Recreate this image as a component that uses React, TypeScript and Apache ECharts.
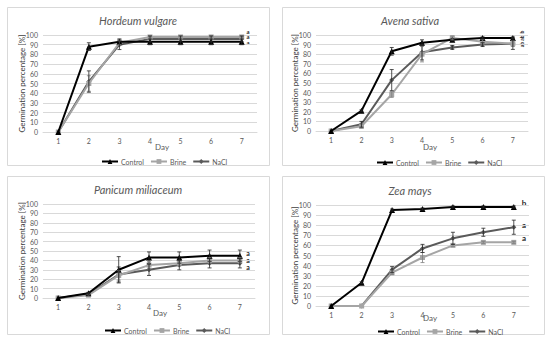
import React, { useEffect, useRef } from "react";
import * as echarts from "echarts";

const days = ["1", "2", "3", "4", "5", "6", "7"];
const seriesNames = ["Control", "Brine", "NaCl"];

// Hordeum vulgare
const hvControl = [0, 88, 93, 93, 93, 93, 93];
const hvControlErr = [0, 4, 3, 3, 3, 3, 3];
const hvBrine = [0, 50, 92, 98, 98, 98, 98];
const hvBrineErr = [0, 8, 2, 1, 1, 1, 1];
const hvNaCl = [0, 52, 90, 96, 96, 96, 96];
const hvNaClErr = [0, 11, 5, 3, 3, 3, 3];

// Avena sativa
const avControl = [0, 21, 83, 92, 95, 97, 97];
const avControlErr = [0, 1, 4, 3, 1, 1, 1];
const avBrine = [0, 5, 38, 80, 97, 93, 91];
const avBrineErr = [0, 2, 3, 8, 2, 2, 3];
const avNaCl = [0, 7, 53, 82, 87, 90, 91];
const avNaClErr = [0, 3, 11, 8, 2, 2, 6];

// Panicum miliaceum
const pmControl = [0, 5, 30, 43, 43, 45, 45];
const pmControlErr = [0, 1, 14, 6, 6, 6, 6];
const pmBrine = [0, 3, 24, 35, 37, 40, 40];
const pmBrineErr = [0, 1, 5, 4, 3, 3, 3];
const pmNaCl = [0, 4, 25, 30, 35, 37, 37];
const pmNaClErr = [0, 1, 8, 6, 5, 5, 5];

// Zea mays
const zmControl = [0, 23, 95, 96, 98, 98, 98];
const zmControlErr = [0, 1, 1, 1, 1, 1, 1];
const zmBrine = [0, 0, 33, 48, 60, 63, 63];
const zmBrineErr = [0, 0, 2, 5, 1, 1, 1];
const zmNaCl = [0, 0, 36, 57, 67, 73, 78];
const zmNaClErr = [0, 0, 3, 4, 6, 4, 7];

const titles = ["Hordeum vulgare", "Avena sativa", "Panicum miliaceum", "Zea mays"];

const panelsData = [
  { values: [hvControl, hvBrine, hvNaCl], errs: [hvControlErr, hvBrineErr, hvNaClErr] },
  { values: [avControl, avBrine, avNaCl], errs: [avControlErr, avBrineErr, avNaClErr] },
  { values: [pmControl, pmBrine, pmNaCl], errs: [pmControlErr, pmBrineErr, pmNaClErr] },
  { values: [zmControl, zmBrine, zmNaCl], errs: [zmControlErr, zmBrineErr, zmNaClErr] },
];

// layout (pixels)
const grids = [
  { left: 43, top: 35, width: 214, height: 97 },
  { left: 316, top: 35, width: 212, height: 96 },
  { left: 43, top: 204, width: 212, height: 94 },
  { left: 316, top: 205, width: 213, height: 101 },
];
const boxes = [
  { x: 7, y: 7, w: 262, h: 158 },
  { x: 282, y: 7, w: 262, h: 158 },
  { x: 7, y: 176, w: 262, h: 158 },
  { x: 282, y: 176, w: 262, h: 158 },
];
const titlePos = [
  { x: 138, y: 20 },
  { x: 410, y: 20 },
  { x: 138, y: 189 },
  { x: 410, y: 190 },
];
const dayPos = [
  { x: 162, y: 146.5 },
  { x: 430, y: 146.5 },
  { x: 160, y: 313 },
  { x: 430, y: 318 },
];
const legendPos = [
  { left: 96, top: 153 },
  { left: 371, top: 154 },
  { left: 99, top: 322 },
  { left: 372, top: 323 },
];

const colors = ["#000000", "#a5a5a5", "#5a5a5a"];
const symbols = ["triangle", "rect", "diamond"];
const symbolSizes = [6, 5, 5];
const FONT = "Lato, 'Open Sans', sans-serif";

export default function App() {
  const ref = useRef<HTMLDivElement>(null);
  useEffect(() => {
    if (!ref.current) return;
    const chart = echarts.init(ref.current, null, { renderer: "svg" });

    const xAxis: any[] = [];
    const yAxis: any[] = [];
    const series: any[] = [];
    const legend: any[] = [];
    const graphic: any[] = [];

    grids.forEach((g, i) => {
      xAxis.push({
        type: "category",
        gridIndex: i,
        data: days,
        boundaryGap: true,
        axisLine: { show: true, lineStyle: { color: "#d9d9d9", width: 1 } },
        axisTick: { show: false },
        axisLabel: { fontSize: 7, color: "#595959", fontFamily: FONT, margin: 5 },
      });
      yAxis.push({
        type: "value",
        gridIndex: i,
        min: 0,
        max: 100,
        interval: 10,
        name: "Germination percentage [%]",
        nameLocation: "middle",
        nameGap: 17,
        nameMoveOverlap: false,
        nameTextStyle: { fontSize: 8, color: "#404040", fontFamily: FONT },
        axisLine: { show: false },
        axisTick: { show: false },
        axisLabel: { fontSize: 7, color: "#595959", fontFamily: FONT, margin: 5 },
        splitLine: { lineStyle: { color: "#d9d9d9", width: 1 } },
      });

      const pd = panelsData[i];
      seriesNames.forEach((name, s) => {
        series.push({
          type: "line",
          name,
          xAxisIndex: i,
          yAxisIndex: i,
          data: pd.values[s],
          symbol: symbols[s],
          symbolSize: symbolSizes[s],
          lineStyle: { color: colors[s], width: 2 },
          itemStyle: { color: colors[s] },
          z: 3 - s + 2,
        });
      });
      seriesNames.forEach((name, s) => {
        const errData: any[] = [];
        pd.values[s].forEach((v, k) => {
          const e = pd.errs[s][k];
          if (e > 0) errData.push([k, v - e, v + e]);
        });
        series.push({
          type: "custom",
          name: name + " err",
          xAxisIndex: i,
          yAxisIndex: i,
          data: errData,
          encode: { x: 0, y: [1, 2] },
          z: 10,
          silent: true,
          renderItem: (params: any, api: any) => {
            const x = api.value(0);
            const lo = api.coord([x, api.value(1)]);
            const hi = api.coord([x, api.value(2)]);
            const w = 2;
            const st = { stroke: s === 1 ? "#7f7f7f" : "#262626", lineWidth: 0.8 };
            return {
              type: "group",
              children: [
                { type: "line", shape: { x1: lo[0], y1: lo[1], x2: hi[0], y2: hi[1] }, style: st },
                { type: "line", shape: { x1: lo[0] - w, y1: lo[1], x2: lo[0] + w, y2: lo[1] }, style: st },
                { type: "line", shape: { x1: hi[0] - w, y1: hi[1], x2: hi[0] + w, y2: hi[1] }, style: st },
              ],
            };
          },
        });
      });

      legend.push({
        data: seriesNames,
        left: legendPos[i].left,
        top: legendPos[i].top,
        itemWidth: 16,
        itemHeight: 6,
        itemGap: 6,
        selectedMode: false,
        textStyle: { fontSize: 7, color: "#595959", fontFamily: FONT, padding: [0, 0, 0, -2] },
      });

      graphic.push({
        type: "rect",
        shape: { x: boxes[i].x + 0.5, y: boxes[i].y + 0.5, width: boxes[i].w, height: boxes[i].h },
        style: { fill: "none", stroke: "#d9d9d9", lineWidth: 1 },
        z: -1,
      });
      graphic.push({
        type: "text",
        x: titlePos[i].x,
        y: titlePos[i].y,
        style: {
          text: titles[i],
          fontSize: 11,
          fontStyle: "italic",
          fill: "#595959",
          fontFamily: FONT,
          align: "center",
          verticalAlign: "middle",
        },
      });
      graphic.push({
        type: "text",
        x: dayPos[i].x,
        y: dayPos[i].y,
        style: {
          text: "Day",
          fontSize: 8,
          fill: "#595959",
          fontFamily: FONT,
          align: "center",
          verticalAlign: "middle",
        },
      });
    });

    // significance letters
    const letters = [
      { text: "a", x: 248, y: 31, rot: 0, size: 6 },
      { text: "a", x: 248, y: 36.5, rot: 0, size: 6 },
      { text: "a", x: 248, y: 42, rot: 0, size: 6 },
      { text: "b", x: 522, y: 32, rot: Math.PI / 2, size: 5 },
      { text: "ab", x: 522, y: 38, rot: Math.PI / 2, size: 5 },
      { text: "ab", x: 522, y: 44.5, rot: Math.PI / 2, size: 5 },
      { text: "a", x: 248, y: 252.5, rot: 0, size: 7 },
      { text: "a", x: 248, y: 259.5, rot: 0, size: 7 },
      { text: "a", x: 248, y: 266.5, rot: 0, size: 7 },
      { text: "b", x: 524, y: 203, rot: 0, size: 8 },
      { text: "a", x: 524, y: 225, rot: 0, size: 8 },
      { text: "a", x: 524, y: 238, rot: 0, size: 8 },
    ];
    letters.forEach((l) => {
      graphic.push({
        type: "text",
        x: l.x,
        y: l.y,
        rotation: l.rot,
        style: {
          text: l.text,
          fontSize: l.size,
          fontWeight: "bold",
          fill: "#262626",
          fontFamily: FONT,
          align: "center",
          verticalAlign: "middle",
        },
      });
    });

    chart.setOption({
      animation: false,
      backgroundColor: "#ffffff",
      grid: grids.map((g) => ({ ...g, containLabel: false })),
      xAxis,
      yAxis,
      legend,
      series,
      graphic,
    });
    return () => chart.dispose();
  }, []);

  return (
    <div
      ref={ref}
      style={{ position: "fixed", left: 0, top: 0, width: 550, height: 342, background: "#fff" }}
    />
  );
}
